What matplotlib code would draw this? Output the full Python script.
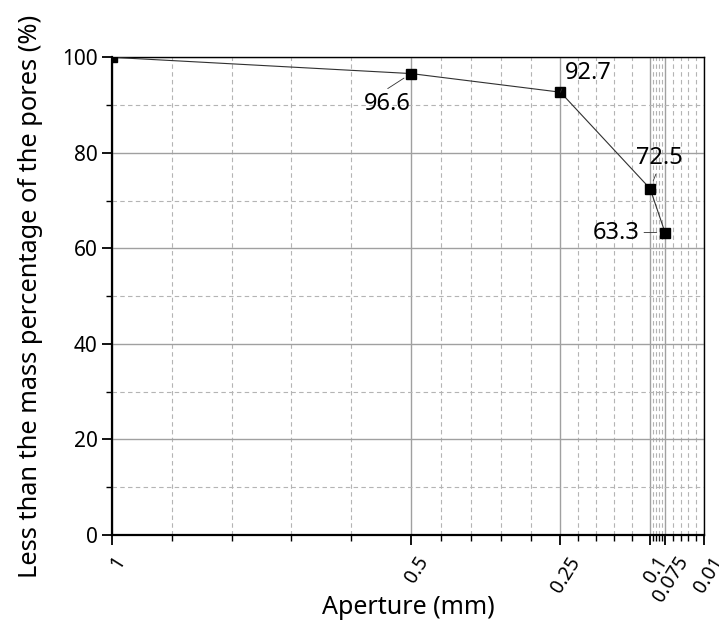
import numpy as np
import matplotlib
matplotlib.use('Agg')
from matplotlib import pyplot as plt
from matplotlib import transforms

plt.rcParams['font.family'] = ['Noto Sans', 'DejaVu Sans']

# sieve data
aperture = [1, 0.5, 0.25, 0.1, 0.075]
passing = [100, 96.6, 92.7, 72.5, 63.3]
tick_pos = [1, 0.5, 0.25, 0.1, 0.075, 0.01]
tick_labels = ['1', '0.5', '0.25', '0.1', '0.075', '0.01']

# label offsets (points) and leader start on the text box
label_offsets = {96.6: (-17, -22), 92.7: (20, 14), 72.5: (7, 22), 63.3: (-35, 0)}
label_relpos = {96.6: (0.35, 0.95), 92.7: (0.02, 0.25), 72.5: (0.45, 0.0), 63.3: (1.0, 0.5)}

fig = plt.figure(figsize=(7.19, 6.3), dpi=100)
ax = fig.add_axes([0.156, 0.151, 0.823, 0.758])

ax.plot(aperture, passing, color='#303030', lw=0.8, marker='s', ms=7,
        mfc='black', mec='black', zorder=3)

for x, y in zip(aperture, passing):
    if y not in label_offsets:
        continue
    ax.annotate('%.1f' % y, (x, y), xytext=label_offsets[y], textcoords='offset points',
                ha='center', va='center', fontsize=17,
                arrowprops=dict(arrowstyle='-', lw=0.6, color='#303030',
                                relpos=label_relpos[y], shrinkA=1, shrinkB=6))

ax.set_xlim(1, 0.01)
ax.set_ylim(0, 100)

# minor ticks: four between each pair of major ticks
minor = []
for a, b in zip(tick_pos[:-1], tick_pos[1:]):
    minor += list(np.linspace(a, b, 6)[1:-1])
ax.set_xticks(tick_pos)
ax.set_xticklabels(tick_labels, rotation=58, ha='center', fontsize=14)
ax.set_xticks(minor, minor=True)
ax.set_yticks(range(0, 101, 20))
ax.set_yticks(range(10, 100, 20), minor=True)
ax.tick_params(axis='y', labelsize=15)

ax.tick_params(which='major', direction='out', length=7, width=1.3)
ax.tick_params(which='minor', direction='out', length=4, width=1.0)
ax.tick_params(axis='x', which='major', pad=6)

# nudge the slanted x labels a little to the right
shift = transforms.ScaledTranslation(4 / 72, 0, fig.dpi_scale_trans)
for lab in ax.get_xticklabels():
    lab.set_transform(lab.get_transform() + shift)

ax.grid(which='major', color='#a0a0a0', lw=1.0, ls='-')
ax.grid(which='minor', color='#b4b4b4', lw=0.8, ls=(0, (4, 3)))
ax.set_axisbelow(True)

for side in ['left', 'bottom']:
    ax.spines[side].set_linewidth(1.6)
for side in ['top', 'right']:
    ax.spines[side].set_linewidth(1.0)

ax.set_xlabel('Aperture (mm)', fontsize=18)
ax.xaxis.set_label_coords(0.5, -0.125)
ax.set_ylabel('Less than the mass percentage of the pores (%)', fontsize=18.3, labelpad=14)

fig.savefig('out.png', dpi=100)
